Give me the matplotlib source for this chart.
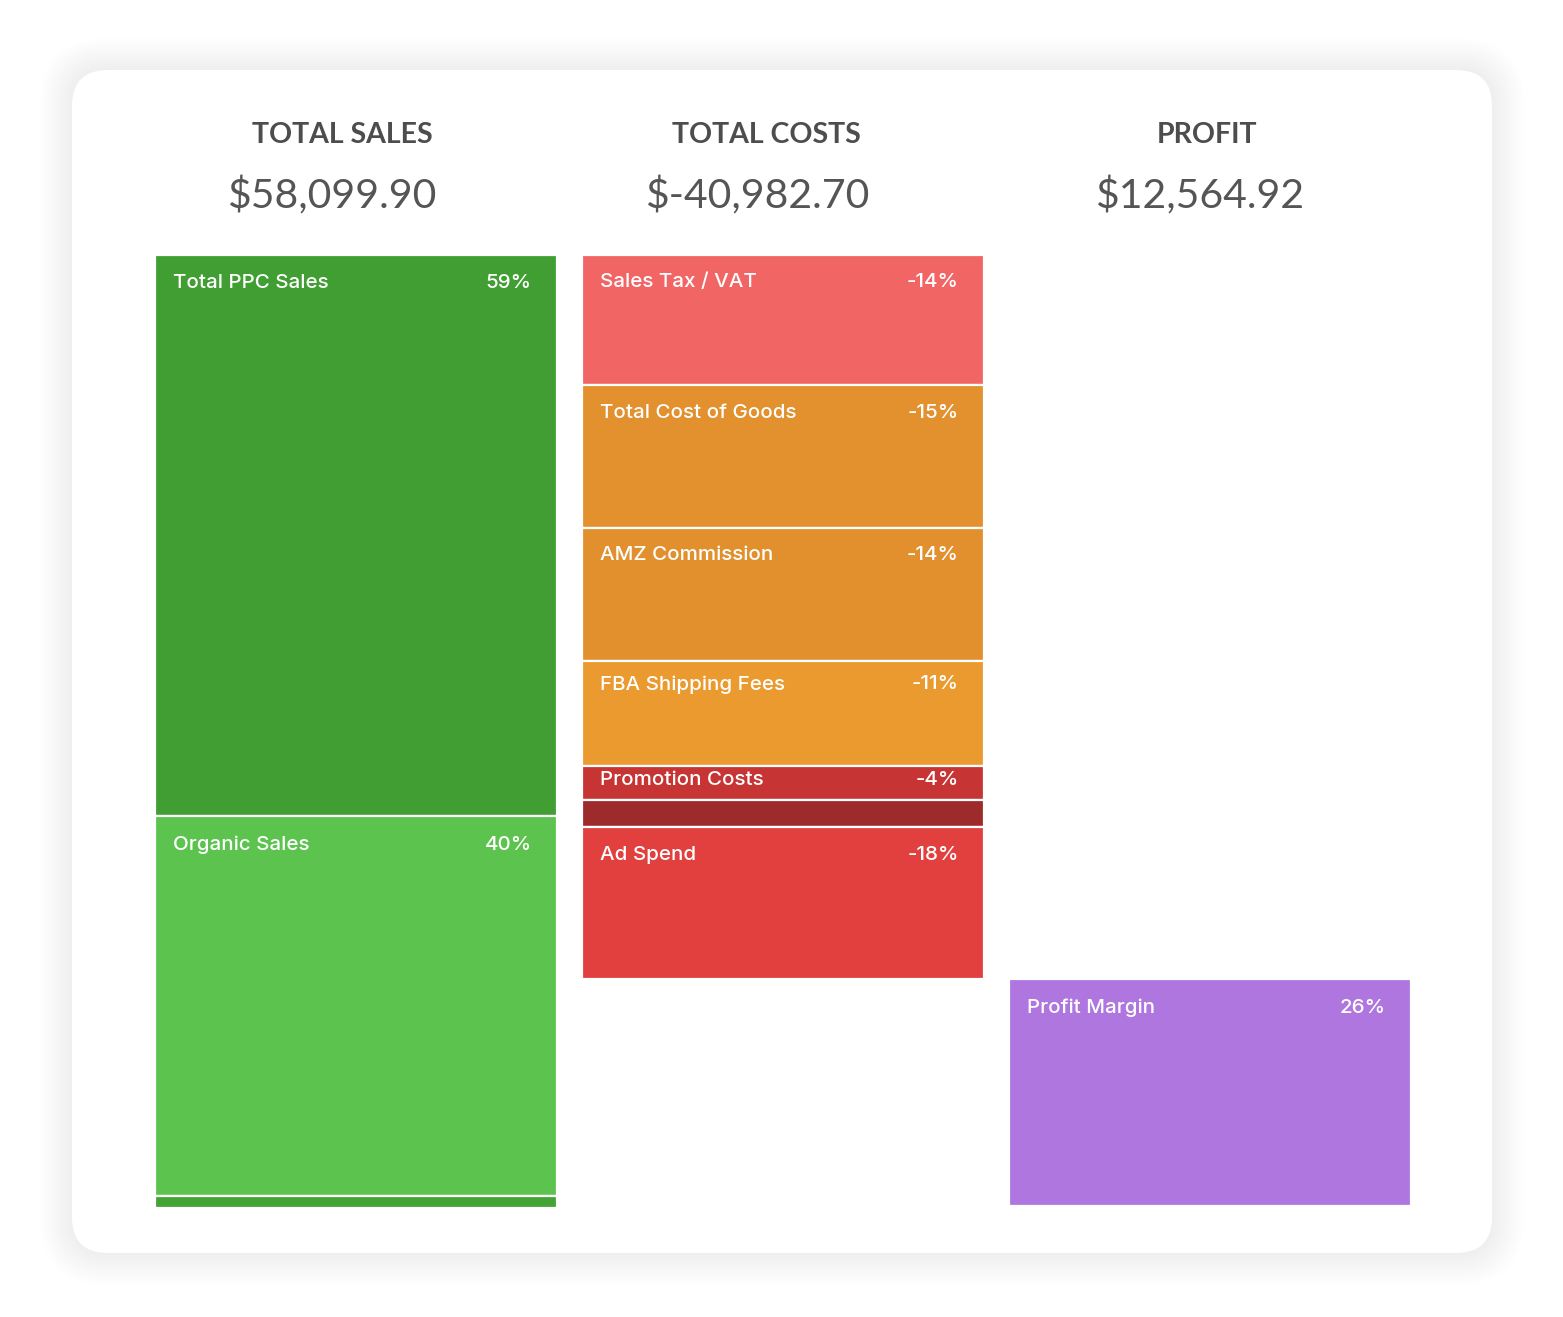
import matplotlib.pyplot as plt
from matplotlib.patches import FancyBboxPatch

# block heights, in % of total sales
sales_names = ["Total PPC Sales", "Organic Sales", ""]
sales_vals = [58.9, 39.8, 1.3]
sales_pcts = ["59%", "40%", ""]
sales_cols = ["#409e33", "#5cc44e", "#43a435"]

cost_names = ["Sales Tax / VAT", "Total Cost of Goods", "AMZ Commission",
              "FBA Shipping Fees", "Promotion Costs", "", "Ad Spend"]
cost_vals = [13.6, 15.0, 14.0, 11.0, 3.6, 2.8, 16.0]
cost_pcts = ["-14%", "-15%", "-14%", "-11%", "-4%", "", "-18%"]
cost_cols = ["#f26565", "#e2912e", "#e2902d", "#ea9a2e", "#c73434", "#9e2b2b", "#e23f3f"]

profit_names = ["Profit Margin"]
profit_vals = [23.8]
profit_pcts = ["26%"]
profit_cols = ["#b076e0"]

headers = ["TOTAL SALES", "TOTAL COSTS", "PROFIT"]
amounts = ["$58,099.90", "$-40,982.70", "$12,564.92"]

W, H = 1563, 1317
fig = plt.figure(figsize=(W / 100, H / 100), dpi=100)
fig.patch.set_facecolor("white")

# background axes in pixel coords for the card
bg = fig.add_axes([0, 0, 1, 1])
bg.set_xlim(0, W)
bg.set_ylim(H, 0)
bg.axis("off")

cx0, cy0, cx1, cy1 = 72, 70, 1492, 1253
for i in range(16, 0, -1):
    g = i * 2.0
    bg.add_patch(FancyBboxPatch((cx0 - g, cy0 - g), cx1 - cx0 + 2 * g, cy1 - cy0 + 2 * g,
                                boxstyle="round,pad=0,rounding_size=%f" % (36 + g),
                                facecolor="#e4e4e4", edgecolor="none", alpha=0.035))
bg.add_patch(FancyBboxPatch((cx0, cy0), cx1 - cx0, cy1 - cy0,
                            boxstyle="round,pad=0,rounding_size=36",
                            facecolor="white", edgecolor="none"))

head_x = [342, 766, 1207]
amt_x = [332, 757, 1200]
for hx, ax_, h, a in zip(head_x, amt_x, headers, amounts):
    bg.text(hx, 135, h, ha="center", va="center", fontsize=20.5, fontweight="bold",
            color="#4d4d4d", family="Lato")
    bg.text(ax_, 196, a, ha="center", va="center", fontsize=29.5,
            color="#555555", family="Lato")

# bars axes
ax = fig.add_axes([155 / W, 1 - 1208 / H, 1256 / W, 953 / H])
ax.set_xlim(-0.47, 2.47)
ax.set_ylim(100, 0)
ax.axis("off")
ax.patch.set_alpha(0)

width = 0.94
columns = [(sales_names, sales_vals, sales_pcts, sales_cols, 0.0),
           (cost_names, cost_vals, cost_pcts, cost_cols, 0.0),
           (profit_names, profit_vals, profit_pcts, profit_cols, sum(cost_vals))]

for xi, (names, vals, pcts, cols, start) in enumerate(columns):
    bottom = start
    for n, v, p, c in zip(names, vals, pcts, cols):
        ax.bar(xi, v, bottom=bottom, width=width, color=c, edgecolor="white",
               linewidth=1.6, align="center")
        pad = min(14, v * 0.95)
        if n:
            ax.annotate(n, xy=(xi - width / 2, bottom), xytext=(13, -pad),
                        textcoords="offset points", ha="left", va="top",
                        fontsize=14.8, fontweight="medium", color="white", family="Inter")
            ax.annotate(p, xy=(xi + width / 2, bottom), xytext=(-18, -pad),
                        textcoords="offset points", ha="right", va="top",
                        fontsize=14.8, fontweight="medium", color="white", family="Inter")
        bottom += v

fig.savefig("out.png", dpi=100, facecolor="white")
